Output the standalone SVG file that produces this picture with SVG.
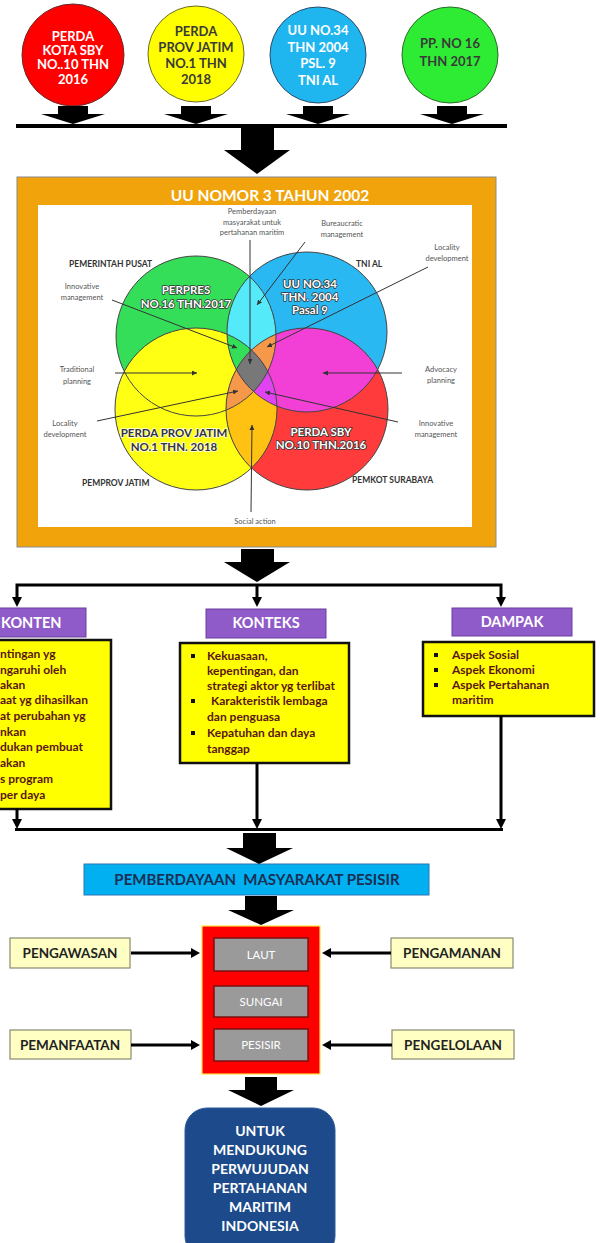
<svg xmlns="http://www.w3.org/2000/svg" width="600" height="1243" viewBox="0 0 600 1243">
<style>
text{font-family:Lato,'Liberation Sans',sans-serif}
.b{font-weight:700}
.c{text-anchor:middle}
.ann{font-size:7.5px;fill:#555}
.lbl{font-size:8.5px;font-weight:700;fill:#333}
.ptr{stroke:#333;stroke-width:1;fill:none;marker-end:url(#pa)}
.conn{stroke:#000;stroke-width:3;fill:none}
.hdr{fill:#8F5BC8;stroke:#6A3FA0;stroke-width:1}
.ybox{fill:#FFFF00;stroke:#111;stroke-width:2.5}
.mar{font-size:12px;font-weight:700;fill:#5a1515}
.htxt{font-size:14.5px;font-weight:700;fill:#fff;text-anchor:middle}
.wl{fill:#fff;stroke:#333;stroke-width:1.6;paint-order:stroke;stroke-linejoin:round;font-weight:700;font-size:11.5px;text-anchor:middle}
.dl{fill:#333;stroke:#fff;stroke-width:1.6;paint-order:stroke;stroke-linejoin:round;font-weight:700;font-size:11.5px;text-anchor:middle}
.vo{fill:none;stroke:#444;stroke-width:1}
.lyb{fill:#FFFFC4;stroke:#8a8a70;stroke-width:1.2}
.side{font-size:13.5px;font-weight:700;fill:#222;text-anchor:middle}
.gbox{fill:#9A9A9A;stroke:#7a1010;stroke-width:1.5}
.gt{font-size:11.5px;fill:#fff;text-anchor:middle}
.blu{font-size:14px;font-weight:700;fill:#fff;text-anchor:middle}
.bul{fill:#111}
.tc{font-size:13px;font-weight:700;text-anchor:middle}
</style>
<defs>
<marker id="pa" viewBox="0 0 6 6" refX="6" refY="3" markerWidth="5" markerHeight="5" markerUnits="userSpaceOnUse" orient="auto"><path d="M0,0 L6,3 L0,6 z" fill="#333"/></marker>
<clipPath id="cG"><circle cx="196" cy="336" r="80"/></clipPath>
<clipPath id="cC"><circle cx="307" cy="332" r="80"/></clipPath>
<clipPath id="cY"><circle cx="196" cy="409" r="81"/></clipPath>
<clipPath id="cR"><circle cx="307" cy="409" r="81"/></clipPath>
</defs>

<!-- top circles -->
<g id="c-perda-sby">
<circle cx="73" cy="55" r="51" fill="#FF0000" stroke="#6a2a2a" stroke-width="1"/>
<text class="tc" fill="#fff" x="73" y="41">PERDA</text>
<text class="tc" fill="#fff" x="73" y="55">KOTA SBY</text>
<text class="tc" fill="#fff" x="73" y="69">NO..10 THN</text>
<text class="tc" fill="#fff" x="73" y="84">2016</text>
</g>
<g id="c-perda-jatim">
<circle cx="196" cy="54" r="48" fill="#FFFF00" stroke="#6a6a2a" stroke-width="1"/>
<text class="tc" fill="#3a3a3a" x="196" y="36">PERDA</text>
<text class="tc" fill="#3a3a3a" x="196" y="52">PROV JATIM</text>
<text class="tc" fill="#3a3a3a" x="196" y="68">NO.1 THN</text>
<text class="tc" fill="#3a3a3a" x="196" y="84">2018</text>
</g>
<g id="c-uu34">
<circle cx="318" cy="55" r="48" fill="#1FB6F0" stroke="#2a4a6a" stroke-width="1"/>
<text class="tc" fill="#fff" x="318" y="35">UU NO.34</text>
<text class="tc" fill="#fff" x="318" y="52">THN 2004</text>
<text class="tc" fill="#fff" x="318" y="68">PSL. 9</text>
<text class="tc" fill="#fff" x="318" y="85">TNI AL</text>
</g>
<g id="c-pp16">
<circle cx="450" cy="55" r="48" fill="#2EEB33" stroke="#2a6a2a" stroke-width="1"/>
<text class="tc" fill="#3a3a3a" x="450" y="48">PP. NO 16</text>
<text class="tc" fill="#3a3a3a" x="450" y="66">THN 2017</text>
</g>

<!-- main frame -->
<g id="uu-frame">
<rect x="17" y="177" width="479" height="370" fill="#F0A30A" stroke="#8a8a8a" stroke-width="1"/>
<rect x="38" y="205" width="434" height="322" fill="#fff"/>
<text class="b c" font-size="15.5" fill="#fff" x="270" y="201">UU NOMOR 3 TAHUN 2002</text>
</g>

<g id="venn">
<circle cx="196" cy="336" r="80" fill="#35DE58"/>
<circle cx="307" cy="332" r="80" fill="#29B8F2"/>
<circle cx="196" cy="409" r="81" fill="#FFFF14"/>
<circle cx="307" cy="409" r="81" fill="#FF3B3B"/>
<circle cx="307" cy="332" r="80" fill="#55EAFA" clip-path="url(#cG)"/>
<circle cx="307" cy="409" r="81" fill="#F240D6" clip-path="url(#cC)"/>
<circle cx="307" cy="409" r="81" fill="#FFC212" clip-path="url(#cY)"/>
<g clip-path="url(#cG)"><circle cx="307" cy="332" r="80" fill="#35DE58" clip-path="url(#cY)"/></g>
<g clip-path="url(#cG)"><circle cx="307" cy="332" r="80" fill="#F6984A" clip-path="url(#cR)"/></g>
<g clip-path="url(#cG)"><circle cx="196" cy="409" r="81" fill="#F6984A" clip-path="url(#cR)"/></g>
<g clip-path="url(#cC)"><circle cx="196" cy="409" r="81" fill="#E044F2" clip-path="url(#cR)"/></g>
<g clip-path="url(#cG)"><g clip-path="url(#cC)"><circle cx="196" cy="409" r="81" fill="#787878" clip-path="url(#cR)"/></g></g>
<circle class="vo" cx="196" cy="336" r="80"/>
<circle class="vo" cx="307" cy="332" r="80"/>
<circle class="vo" cx="196" cy="409" r="81"/>
<circle class="vo" cx="307" cy="409" r="81"/>
<text class="wl" x="186" y="294">PERPRES</text>
<text class="wl" x="186" y="308">NO.16 THN.2017</text>
<text class="wl" x="310" y="288">UU NO.34</text>
<text class="wl" x="310" y="301">THN. 2004</text>
<text class="wl" x="310" y="314">Pasal 9</text>
<text class="dl" x="174" y="437">PERDA PROV JATIM</text>
<text class="dl" x="174" y="451">NO.1 THN. 2018</text>
<text class="wl" x="321" y="436">PERDA SBY</text>
<text class="wl" x="321" y="449">NO.10 THN.2016</text>
<text class="lbl" x="69" y="267">PEMERINTAH PUSAT</text>
<text class="lbl" x="356" y="267">TNI AL</text>
<text class="lbl" x="82" y="486">PEMPROV JATIM</text>
<text class="lbl" x="352" y="483">PEMKOT SURABAYA</text>
<text class="ann c" x="252" y="214">Pemberdayaan</text>
<text class="ann c" x="252" y="224.5">masyarakat untuk</text>
<text class="ann c" x="252" y="235">pertahanan maritim</text>
<text class="ann c" x="342" y="226">Bureaucratic</text>
<text class="ann c" x="342" y="237">management</text>
<text class="ann c" x="447" y="250">Locality</text>
<text class="ann c" x="447" y="261">development</text>
<text class="ann c" x="82" y="289">Innovative</text>
<text class="ann c" x="82" y="300">management</text>
<text class="ann c" x="77" y="372">Traditional</text>
<text class="ann c" x="77" y="384">planning</text>
<text class="ann c" x="65" y="426">Locality</text>
<text class="ann c" x="65" y="437">development</text>
<text class="ann c" x="441" y="372">Advocacy</text>
<text class="ann c" x="441" y="383">planning</text>
<text class="ann c" x="436" y="426">Innovative</text>
<text class="ann c" x="436" y="437">management</text>
<text class="ann c" x="255" y="524">Social action</text>
<line class="ptr" x1="250" y1="240" x2="250" y2="364"/>
<line class="ptr" x1="305" y1="242" x2="257" y2="305"/>
<line class="ptr" x1="428" y1="267" x2="267" y2="347"/>
<line class="ptr" x1="112" y1="300" x2="237" y2="348"/>
<line class="ptr" x1="115" y1="373" x2="197" y2="373"/>
<line class="ptr" x1="97" y1="421" x2="238" y2="391"/>
<line class="ptr" x1="402" y1="373" x2="323" y2="373"/>
<line class="ptr" x1="398" y1="422" x2="265" y2="392"/>
<line class="ptr" x1="251" y1="512" x2="252" y2="425"/>
</g>

<!-- headers and boxes -->
<g id="konten">
<rect class="hdr" x="-40" y="608" width="126" height="29"/>
<text class="b" font-size="14.5" fill="#fff" x="1" y="628">KONTEN</text>
<rect class="ybox" x="-60" y="640" width="171" height="169"/>
<text class="mar" x="0" y="658">ntingan yg</text>
<text class="mar" x="0" y="674">ngaruhi oleh</text>
<text class="mar" x="0" y="689">akan</text>
<text class="mar" x="0" y="704">aat yg dihasilkan</text>
<text class="mar" x="0" y="720">at perubahan yg</text>
<text class="mar" x="0" y="736">nkan</text>
<text class="mar" x="0" y="751">dukan pembuat</text>
<text class="mar" x="0" y="767">akan</text>
<text class="mar" x="0" y="783">s program</text>
<text class="mar" x="0" y="799">per daya</text>
</g>
<g id="konteks">
<rect class="hdr" x="206" y="609" width="120" height="29"/>
<text class="htxt" x="266" y="628">KONTEKS</text>
<rect class="ybox" x="180" y="643" width="169" height="120"/>
<rect class="bul" x="191" y="654" width="4" height="4"/>
<text class="mar" x="207" y="660">Kekuasaan,</text>
<text class="mar" x="207" y="675">kepentingan, dan</text>
<text class="mar" x="207" y="690">strategi aktor yg terlibat</text>
<rect class="bul" x="191" y="699" width="4" height="4"/>
<text class="mar" x="211" y="705">Karakteristik lembaga</text>
<text class="mar" x="207" y="721">dan penguasa</text>
<rect class="bul" x="191" y="731" width="4" height="4"/>
<text class="mar" x="207" y="737">Kepatuhan dan daya</text>
<text class="mar" x="207" y="753">tanggap</text>
</g>
<g id="dampak">
<rect class="hdr" x="452" y="608" width="120" height="28"/>
<text class="htxt" x="512" y="627">DAMPAK</text>
<rect class="ybox" x="423" y="642" width="171" height="74"/>
<rect class="bul" x="434" y="653" width="4" height="4"/>
<text class="mar" x="452" y="659">Aspek Sosial</text>
<rect class="bul" x="434" y="668" width="4" height="4"/>
<text class="mar" x="452" y="674">Aspek Ekonomi</text>
<rect class="bul" x="434" y="683" width="4" height="4"/>
<text class="mar" x="452" y="689">Aspek Pertahanan</text>
<text class="mar" x="452" y="704">maritim</text>
</g>

<g id="pemberdayaan">
<rect x="84" y="864" width="345" height="31" fill="#00B0F0" stroke="#2E75B6" stroke-width="1"/>
<text class="b c" font-size="15" fill="#1B2F55" x="257" y="885" xml:space="preserve">PEMBERDAYAAN  MASYARAKAT PESISIR</text>
</g>

<g id="wilayah">
<rect x="202" y="926" width="118" height="148" fill="#FF0000" stroke="#FFE040" stroke-width="1.2"/>
<rect class="gbox" x="214" y="938" width="94" height="33"/>
<text class="gt" x="261" y="959">LAUT</text>
<rect class="gbox" x="214" y="986" width="94" height="31"/>
<text class="gt" x="261" y="1006">SUNGAI</text>
<rect class="gbox" x="214" y="1029" width="94" height="32"/>
<text class="gt" x="261" y="1049">PESISIR</text>
</g>

<g id="pengawasan"><rect class="lyb" x="10" y="938" width="120" height="30"/><text class="side" x="70" y="958">PENGAWASAN</text></g>
<g id="pengamanan"><rect class="lyb" x="391" y="938" width="122" height="30"/><text class="side" x="452" y="958">PENGAMANAN</text></g>
<g id="pemanfaatan"><rect class="lyb" x="10" y="1030" width="121" height="29"/><text class="side" x="70" y="1050">PEMANFAATAN</text></g>
<g id="pengelolaan"><rect class="lyb" x="392" y="1030" width="122" height="29"/><text class="side" x="453" y="1050">PENGELOLAAN</text></g>

<g id="tujuan">
<rect x="185" y="1108" width="150" height="150" rx="22" fill="#1C4A8A" stroke="#2d5a9a" stroke-width="1"/>
<text class="blu" x="260" y="1136">UNTUK</text>
<text class="blu" x="260" y="1155">MENDUKUNG</text>
<text class="blu" x="260" y="1174">PERWUJUDAN</text>
<text class="blu" x="260" y="1193">PERTAHANAN</text>
<text class="blu" x="260" y="1212">MARITIM</text>
<text class="blu" x="260" y="1231">INDONESIA</text>
</g>

<g id="connectors">
<path d="M58,106 h30 v8 h17 L73,124 L41,114 h17 z"/>
<path d="M181,106 h30 v8 h17 L196,124 L164,114 h17 z"/>
<path d="M303,106 h30 v8 h17 L318,124 L286,114 h17 z"/>
<path d="M437,106 h30 v8 h17 L452,124 L420,114 h17 z"/>
<line x1="16" y1="126" x2="507" y2="126" stroke="#000" stroke-width="4"/>
<path d="M241,128 h33 v22 h16 L257,174 L224,150 h17 z"/>
<path d="M241,549 h33 v13 h16 L257,582 L224,562 h17 z"/>
<path d="M243,833 h33 v15 h17 L259,864 L226,848 h17 z"/>
<path d="M245,896 h32 v14 h17 L261,925 L228,910 h17 z"/>
<path d="M245,1077 h32 v13 h17 L261,1106 L228,1090 h17 z"/>
<polyline class="conn" points="17,598 17,585 501,585 501,598"/>
<line class="conn" x1="257" y1="585" x2="257" y2="598"/>
<path d="M12,597 h10 L17,607 z"/>
<path d="M252,597 h10 L257,607 z"/>
<path d="M496,597 h10 L501,607 z"/>
<line class="conn" x1="17" y1="809" x2="17" y2="820"/>
<line class="conn" x1="257" y1="763" x2="257" y2="820"/>
<line class="conn" x1="501" y1="716" x2="501" y2="820"/>
<path d="M12,819 h10 L17,829 z"/>
<path d="M252,819 h10 L257,829 z"/>
<path d="M496,819 h10 L501,829 z"/>
<line class="conn" x1="15" y1="829.5" x2="503" y2="829.5"/>
<line class="conn" x1="131" y1="953" x2="192" y2="953"/>
<path d="M191,948 L200,953 L191,958 z"/>
<line class="conn" x1="391" y1="953" x2="330" y2="953"/>
<path d="M331,948 L322,953 L331,958 z"/>
<line class="conn" x1="131" y1="1045" x2="192" y2="1045"/>
<path d="M191,1040 L200,1045 L191,1050 z"/>
<line class="conn" x1="392" y1="1045" x2="330" y2="1045"/>
<path d="M331,1040 L322,1045 L331,1050 z"/>
</g>
</svg>
